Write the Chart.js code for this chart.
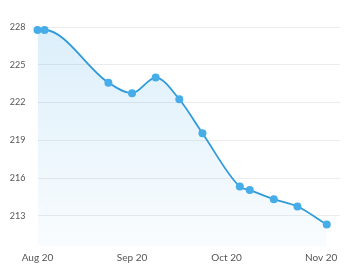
<!DOCTYPE html>
<html>
<head>
<meta charset="utf-8">
<script src="https://cdn.jsdelivr.net/npm/chart.js@4/dist/chart.umd.min.js"></script>
<style>
  html, body { margin: 0; padding: 0; background: #ffffff; }
  #wrap { width: 353px; height: 269px; position: relative; }
</style>
</head>
<body>
<div id="wrap"><canvas id="c" width="353" height="269"></canvas></div>
<script>
// x positions in months after Aug 20
const xPositions = [0, 0.075, 0.75, 1.0, 1.25, 1.5, 1.745, 2.14, 2.245, 2.5, 2.75, 3.06];
const values = [227.76, 227.76, 223.58, 222.74, 223.98, 222.26, 219.56, 215.32, 215.04, 214.32, 213.74, 212.31];
const xTickLabels = ['Aug 20', 'Sep 20', 'Oct 20', 'Nov 20'];
const yTickValues = [213, 216, 219, 222, 225, 228];

const points = xPositions.map((x, i) => ({ x: x, y: values[i] }));

const ctx = document.getElementById('c').getContext('2d');
new Chart(ctx, {
  type: 'line',
  data: {
    datasets: [{
      data: points,
      borderColor: '#2f9bd9',
      borderWidth: 1.8,
      pointRadius: 4,
      pointBackgroundColor: '#47ade8',
      pointBorderColor: '#47ade8',
      pointBorderWidth: 0,
      cubicInterpolationMode: 'monotone',
      fill: 'start',
      clip: false,
      backgroundColor: (c) => {
        const area = c.chart.chartArea;
        if (!area) return 'rgba(54,162,235,0.15)';
        const g = c.chart.ctx.createLinearGradient(0, area.top, 0, area.bottom);
        g.addColorStop(0, 'rgba(60,165,230,0.18)');
        g.addColorStop(1, 'rgba(60,165,230,0.03)');
        return g;
      }
    }]
  },
  options: {
    responsive: false,
    animation: false,
    layout: { padding: { top: 27, right: 13, bottom: 5, left: 0 } },
    plugins: { legend: { display: false }, tooltip: { enabled: false } },
    scales: {
      x: {
        type: 'linear',
        min: 0,
        max: 3.2,
        afterBuildTicks: (s) => { s.ticks = xTickLabels.map((_, i) => ({ value: i })); },
        afterFit: (s) => { s.height = 18; },
        grid: { display: false, drawTicks: false },
        border: { display: false },
        ticks: {
          padding: 6,
          maxRotation: 0,
          autoSkip: false,
          color: '#555555',
          font: { family: 'Lato', size: 10 },
          callback: (v) => xTickLabels[Math.round(v)]
        }
      },
      y: {
        min: 210.6,
        max: 228,
        afterBuildTicks: (s) => { s.ticks = yTickValues.map(v => ({ value: v })); },
        afterFit: (s) => { s.width = 37.5; },
        grid: { color: '#ececec', lineWidth: 1, drawTicks: false },
        border: { display: false },
        ticks: {
          padding: 12,
          color: '#555555',
          font: { family: 'Lato', size: 9 },
          callback: (v) => String(v)
        }
      }
    }
  }
});
</script>
</body>
</html>
